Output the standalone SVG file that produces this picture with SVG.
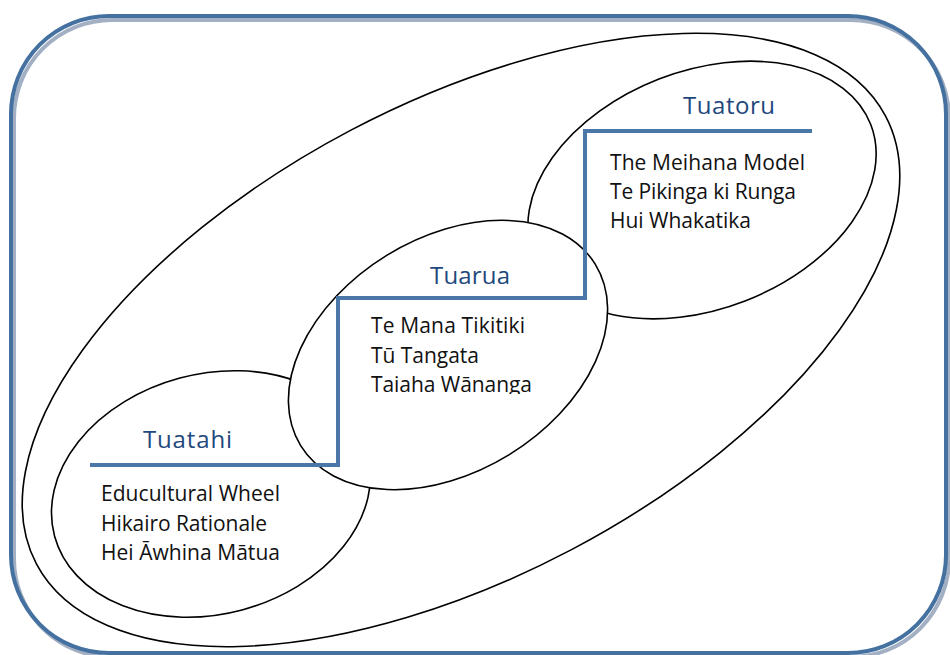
<svg xmlns="http://www.w3.org/2000/svg" width="950" height="655" viewBox="0 0 950 655">
<style>
.ell{fill:#fff;stroke:#000;stroke-width:1.6}
text{font-family:"Open Sans",Lato,sans-serif;font-variant-ligatures:none}
.head{font-size:24px;fill:#1F497D}
.body{font-size:21px;fill:#111}
</style>
<defs>
<clipPath id="clipTuarua"><rect x="360" y="300" width="220" height="94"/></clipPath>
</defs>
<rect width="950" height="655" fill="#fff"/>
<g id="frame">
<rect x="14" y="20" width="935" height="637" rx="98" ry="98" fill="none" stroke="#a3b0c3" stroke-width="4"/>
<rect x="11" y="16" width="935" height="637" rx="98" ry="98" fill="none" stroke="#44719f" stroke-width="4"/>
</g>
<g id="outer">
<ellipse class="ell" cx="461" cy="340" rx="480" ry="237" transform="rotate(-27.8 461 340)"/>
</g>
<g id="tuatoru">
<ellipse class="ell" cx="702" cy="190" rx="181" ry="119" transform="rotate(-21.2 702 190)"/>
</g>
<g id="tuatahi">
<ellipse class="ell" cx="211" cy="494" rx="162" ry="120" transform="rotate(-15 211 494)"/>
</g>
<g id="tuarua">
<ellipse class="ell" cx="448" cy="355" rx="173" ry="117" transform="rotate(-31.6 448 355)"/>
</g>
<g id="connectors">
<path d="M90,465 H338 V298 H585 V131 H812" fill="none" stroke="#4a76a8" stroke-width="4"/>
</g>
<g id="tuatoru-text">
<text class="head" x="683" y="114" textLength="92">Tuatoru</text>
<text class="body" x="610" y="170" textLength="195">The Meihana Model</text>
<text class="body" x="610" y="199" textLength="186">Te Pikinga ki Runga</text>
<text class="body" x="610" y="228" textLength="141">Hui Whakatika</text>
</g>
<g id="tuarua-text">
<text class="head" x="430" y="284" textLength="80">Tuarua</text>
<text class="body" x="371" y="333" textLength="154">Te Mana Tikitiki</text>
<text class="body" x="371" y="363" textLength="108">Tū Tangata</text>
<text class="body" x="371" y="392" textLength="161" clip-path="url(#clipTuarua)">Taiaha Wānanga</text>
</g>
<g id="tuatahi-text">
<text class="head" x="143" y="448" textLength="89">Tuatahi</text>
<text class="body" x="101" y="501" textLength="179">Educultural Wheel</text>
<text class="body" x="101" y="531" textLength="166">Hikairo Rationale</text>
<text class="body" x="101" y="560" textLength="179">Hei Āwhina Mātua</text>
</g>
</svg>
